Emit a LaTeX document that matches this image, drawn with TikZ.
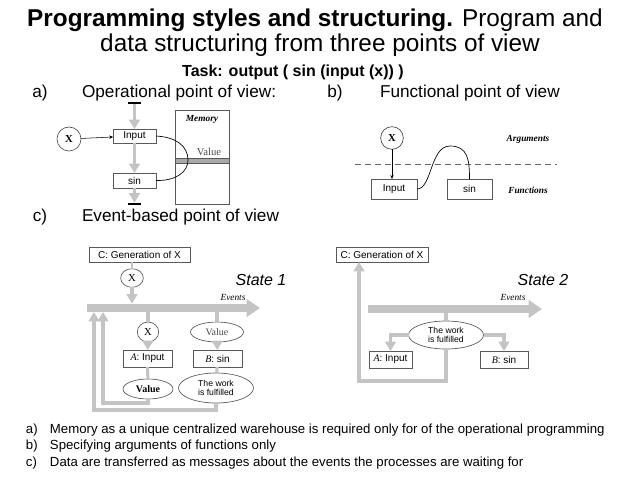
\documentclass[tikz,border=0pt]{standalone}
\usepackage{fontspec}
\setmainfont{Liberation Sans}
\newfontfamily\serifx{Liberation Serif}
\usetikzlibrary{arrows.meta,shapes.geometric,calc}
\definecolor{lg}{HTML}{C4C4C4}
\definecolor{bandc}{HTML}{A8A8A8}
\begin{document}
\begin{tikzpicture}[x=0.75pt,y=-0.75pt,
  every node/.style={inner sep=0pt, outer sep=0pt},
  bx/.style={draw=black!65, line width=0.5pt, fill=white, font=\fontsize{7.5}{8}\selectfont, minimum height=12.75pt},
  ell/.style={ellipse, draw=black!65, line width=0.5pt, fill=white},
  glink/.style={draw=lg, line width=2.3pt},
  garr/.style={draw=lg, line width=2.3pt, -{Triangle[width=8pt,length=7pt]}},
  evbar/.style={draw=lg, line width=6pt, -{Triangle[width=13pt,length=10pt]}},
  lbl/.style={font=\fontsize{12.9}{14}\selectfont},
  foot/.style={font=\fontsize{9.9}{11}\selectfont, anchor=west},
  serlbl/.style={font=\serifx\bfseries\itshape\fontsize{7}{8}\selectfont},
  evlbl/.style={font=\serifx\itshape\fontsize{7}{8}\selectfont},
  stlbl/.style={font=\itshape\fontsize{12}{14}\selectfont},
  blackbar/.style={fill=black, minimum width=9.75pt, minimum height=2.2pt},
]
\useasboundingbox (0,0) rectangle (640,480);

% Title
\node[font=\fontsize{18.25}{20}\selectfont] (title1) at (315,20) {\textbf{Programming styles and structuring.} Program and};
\node[font=\fontsize{18.25}{20}\selectfont] (title2) at (320,45) {data structuring from three points of view};
\node[font=\bfseries\fontsize{12}{13}\selectfont] (task) at (293,72) {Task: output ( sin (input (x)) )};

\node[lbl] (la) at (40,93) {a)};
\node[lbl, anchor=west] (lat) at (82,93) {Operational point of view:};
\node[lbl] (lb) at (335,93) {b)};
\node[lbl, anchor=west] (lbt) at (380,93) {Functional point of view};
\node[lbl] (lc) at (40,217) {c)};
\node[lbl, anchor=west] (lct) at (82,217) {Event-based point of view};

% ---- a) operational
\node[circle, draw=black!70, line width=0.5pt, minimum size=18pt, font=\serifx\bfseries\fontsize{8}{8}\selectfont] (xa) at (69,139) {X};
\node[bx, minimum width=32pt, minimum height=10.5pt] (inA) at (134.5,136) {Input};
\node[bx, minimum width=32pt, minimum height=11.25pt] (sinA) at (134.5,180.5) {sin};
\node[draw=black!65, line width=0.5pt, minimum width=40.5pt, minimum height=70.5pt] (mem) at (202,157) {};
\node[draw=black!65, line width=0.4pt, fill=bandc, minimum width=40.5pt, minimum height=3.8pt] (band) at (202,160.5) {};
\node[serlbl] (memlbl) at (202,119) {Memory};
\node[font=\serifx\fontsize{8}{8}\selectfont, text=black!70] (vallbl) at (209,152) {Value};
\node[blackbar] (tb) at (134.5,103) {};
\node[blackbar] (bb) at (134.5,204) {};
\draw[garr] (tb) -- (inA);
\draw[garr] (inA) -- (sinA);
\draw[garr] (sinA) -- (bb.north);
\draw[line width=0.4pt, -{Stealth[length=3pt,width=2.5pt]}] (xa) -- (inA);
\draw[line width=0.5pt] (inA.east) .. controls (176,137) and (188,146) .. (188,160) .. controls (188,172) and (176,181) .. (sinA.east);

% ---- b) functional
\node[circle, draw=black!70, line width=0.5pt, minimum size=17pt, font=\serifx\bfseries\fontsize{8}{8}\selectfont] (xb) at (392,138) {X};
\node[bx, minimum width=34.5pt, minimum height=15pt] (inB) at (394,189) {Input};
\node[bx, minimum width=33.75pt, minimum height=15pt] (sinB) at (469.5,189) {sin};
\draw[line width=0.4pt, -{Stealth[length=3pt,width=2.5pt]}] (xb) -- (xb |- inB.north);
\coordinate (dl1) at (355,164);
\coordinate (dl2) at (557,164);
\draw[black!60, line width=0.6pt, dash pattern=on 4.5pt off 3pt] (dl1) -- (dl2);
\draw[line width=0.5pt] (inB.east) .. controls (432,189) and (430,146) .. (450,146) .. controls (468,146) and (469.5,160) .. (sinB.north);
\node[serlbl] (argl) at (528,139) {Arguments};
\node[serlbl] (funl) at (528,190) {Functions};

% ---- c) state 1
\node[bx, minimum width=75.75pt, minimum height=11.25pt] (c1) at (139.5,254.5) {C: Generation of X};
\node[ell, minimum width=17pt, minimum height=14pt, font=\serifx\fontsize{8}{8}\selectfont] (x1) at (132,278) {X};
\draw[draw=lg, line width=1.2pt] (x1 |- c1.south) -- (x1);
\coordinate (e1s) at (87,308);
\coordinate (e1e) at (260,308);
\coordinate (e1t) at (0,303.5);
\coordinate (e1b) at (0,312);
\coordinate (l1) at (103,403);
\coordinate (l2) at (94,410);
\node[ell, minimum width=16pt, minimum height=15pt, font=\serifx\fontsize{8}{8}\selectfont] (x2) at (148,332) {X};
\node[bx, minimum width=36.75pt] (a1) at (147.5,358.5) {{\serifx\itshape A}: Input};
\node[ell, minimum width=37.5pt, minimum height=15pt, font=\serifx\bfseries\fontsize{7.5}{8}\selectfont] (v1) at (148,389) {Value};
\node[ell, minimum width=39.75pt, minimum height=15pt, font=\serifx\fontsize{7.5}{8}\selectfont, text=black!70] (v2) at (217,332) {Value};
\node[bx, minimum width=36.75pt] (b1) at (217.5,358.5) {{\serifx\itshape B}: sin};
\node[ell, minimum width=56.25pt, minimum height=22.5pt, align=center, font=\fontsize{6.5}{7}\selectfont] (w1) at (216,388) {The work\\is fulfilled};
\draw[garr] (w1.south) |- (l2) -- (l2 |- e1b);
\draw[garr] (v1.south) |- (l1) -- (l1 |- e1b);
\draw[evbar] (e1s) -- (e1e);
\draw[garr] (x1) -- (x1 |- e1t);
\draw[glink] (x2 |- e1s) -- (x2);
\draw[garr] (x2) -- (a1);
\draw[glink] (a1) -- (v1);
\draw[glink] (v2 |- e1s) -- (v2);
\draw[garr] (v2) -- (b1);
\draw[glink] (b1) -- (w1);
\node[evlbl] (ev1) at (233,297) {Events};
\node[stlbl] (st1) at (261,280) {State 1};

% ---- c) state 2
\node[bx, minimum width=69pt, minimum height=11.25pt] (c2) at (382,254.5) {C: Generation of X};
\coordinate (e2s) at (368,309);
\coordinate (e2e) at (542,309);
\coordinate (l3) at (359,381);
\node[ell, minimum width=56.25pt, minimum height=21pt, align=center, font=\fontsize{6.5}{7}\selectfont] (w2) at (446,335) {The work\\is fulfilled};
\node[bx, minimum width=32.25pt] (a2) at (390.5,359.5) {{\serifx\itshape A}: Input};
\node[bx, minimum width=36pt] (b2) at (504,359.5) {{\serifx\itshape B}: sin};
\draw[glink] (w2.north |- e2s) -- (w2.north);
\draw[garr] (w2.west) -| (a2.north);
\draw[garr] (w2.east) -| (b2.north);
\draw[garr] (w2.south) |- (l3) -- (l3 |- c2.south);
\draw[evbar] (e2s) -- (e2e);
\node[evlbl] (ev2) at (513,297) {Events};
\node[stlbl] (st2) at (543,280) {State 2};

% ---- footer
\node[foot] (fa) at (26,430) {a)};
\node[foot] (fat) at (50,430) {Memory as a unique centralized warehouse is required only for of the operational programming};
\node[foot] (fb) at (26,446) {b)};
\node[foot] (fbt) at (50,446) {Specifying arguments of functions only};
\node[foot] (fc) at (26,463) {c)};
\node[foot] (fct) at (50,463) {Data are transferred as messages about the events the processes are waiting for};
\end{tikzpicture}
\end{document}
